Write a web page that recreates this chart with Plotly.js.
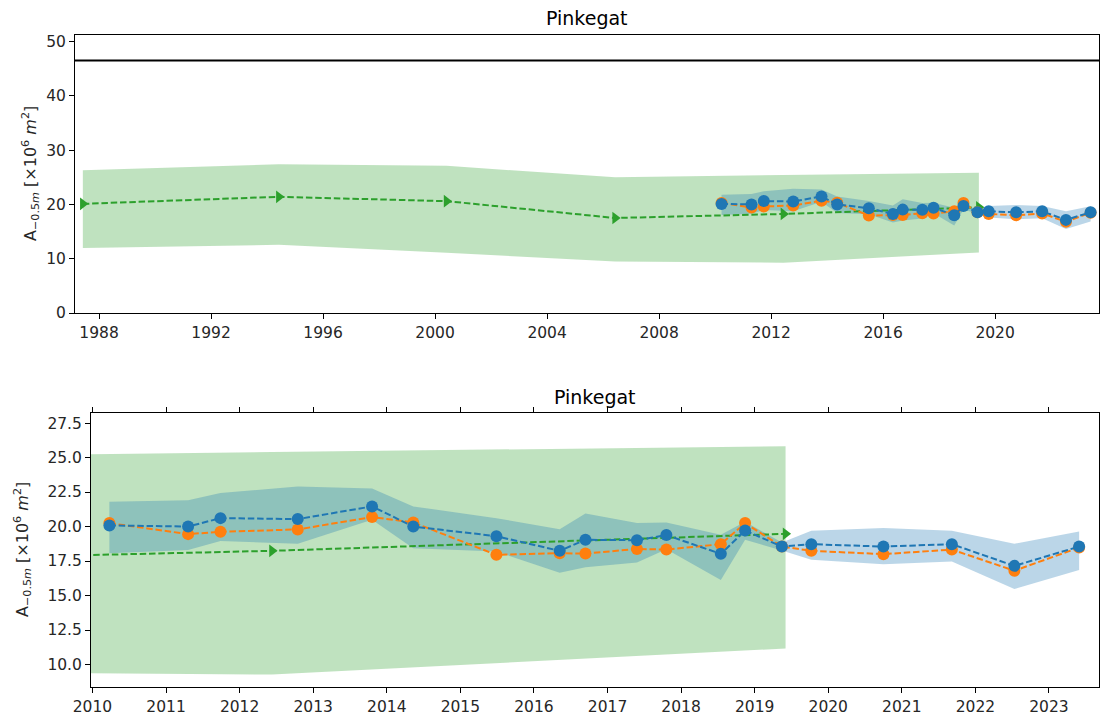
<!DOCTYPE html>
<html>
<head>
<meta charset="utf-8">
<script src="https://cdn.plot.ly/plotly-3.0.1.min.js"></script>
<style>html,body{margin:0;padding:0;background:#fff;}#chart{width:1107px;height:718px;}</style>
</head>
<body>
<div id="chart"></div>
<script>
// ---- data ----
const greenYears = [1987.42, 1994.42, 2000.41, 2006.43, 2012.44, 2019.42];
const greenVals  = [20.1, 21.4, 20.6, 17.5, 18.24, 19.47];
const greenUpper = [26.3, 27.4, 27.1, 25.0, 25.4, 25.82];
const greenLower = [11.95, 12.55, 11.1, 9.5, 9.27, 11.16];

const obsYears = [2010.23, 2011.30, 2011.74, 2012.79, 2013.80, 2014.36, 2015.49, 2016.35, 2016.70, 2017.40,
                  2017.80, 2018.54, 2018.87, 2019.37, 2019.77, 2020.75, 2021.68, 2022.53, 2023.41];
const blueVals   = [20.08, 20.0, 20.61, 20.54, 21.46, 20.0, 19.30, 18.24, 19.04, 19.01,
                    19.38, 18.02, 19.71, 18.55, 18.72, 18.55, 18.72, 17.15, 18.55];
const orangeVals = [20.25, 19.45, 19.62, 19.79, 20.69, 20.30, 17.95, 18.07, 18.04, 18.38,
                    18.33, 18.72, 20.25, 18.55, 18.24, 18.0, 18.33, 16.8, 18.48];
const blueUpper  = [21.8, 21.9, 22.43, 22.9, 22.75, 21.46, 20.61, 19.81, 20.95, 20.25,
                    20.3, 19.4, 20.35, 18.84, 19.7, 19.9, 19.69, 18.75, 19.64];
const blueLower  = [18.07, 18.3, 18.96, 18.75, 20.49, 18.43, 18.19, 16.66, 17.05, 17.39,
                    18.36, 16.13, 19.04, 18.26, 17.6, 17.27, 17.46, 15.47, 16.85];

const refLevel = 46.5;
const titleText = "Pinkegat";
const topXTicks = [1988, 1992, 1996, 2000, 2004, 2008, 2012, 2016, 2020];
const topYTicks = [0, 10, 20, 30, 40, 50];
const botXTicks = [2010, 2011, 2012, 2013, 2014, 2015, 2016, 2017, 2018, 2019, 2020, 2021, 2022, 2023];
const botYTicks = [10.0, 12.5, 15.0, 17.5, 20.0, 22.5, 25.0, 27.5];

// ---- styling ----
const C0 = '#1f77b4', C1 = '#ff7f0e', C2 = '#2ca02c';
const dash = '6.5px,2.8px';
const W = 1107, H = 718;

function band(xs, up, lo) {
  return { x: xs.concat(xs.slice().reverse()), y: up.concat(lo.slice().reverse()) };
}
const gBand = band(greenYears, greenUpper, greenLower);
const bBand = band(obsYears, blueUpper, blueLower);

function panelTraces(xa, ya) {
  return [
    {x: gBand.x, y: gBand.y, xaxis: xa, yaxis: ya, type: 'scatter', mode: 'lines', fill: 'toself',
     fillcolor: 'rgba(44,160,44,0.3)', line: {width: 0}, hoverinfo: 'skip', showlegend: false},
    {x: bBand.x, y: bBand.y, xaxis: xa, yaxis: ya, type: 'scatter', mode: 'lines', fill: 'toself',
     fillcolor: 'rgba(31,119,180,0.3)', line: {width: 0}, hoverinfo: 'skip', showlegend: false},
    {x: greenYears, y: greenVals, xaxis: xa, yaxis: ya, type: 'scatter', mode: 'lines+markers',
     line: {color: C2, width: 2, dash: dash}, marker: {symbol: 'triangle-right', size: 11, color: C2},
     showlegend: false},
    {x: obsYears, y: orangeVals, xaxis: xa, yaxis: ya, type: 'scatter', mode: 'lines+markers',
     line: {color: C1, width: 2, dash: dash}, marker: {symbol: 'circle', size: 12, color: C1},
     showlegend: false},
    {x: obsYears, y: blueVals, xaxis: xa, yaxis: ya, type: 'scatter', mode: 'lines+markers',
     line: {color: C0, width: 2, dash: dash}, marker: {symbol: 'circle', size: 12, color: C0},
     showlegend: false}
  ];
}

const data = panelTraces('x', 'y').concat(panelTraces('x2', 'y2'));

const tickFont = {family: 'DejaVu Sans', size: 15.5, color: '#262626'};
const axBase = {
  showgrid: false, zeroline: false, showline: true, linecolor: '#000', linewidth: 1,
  ticks: 'outside', ticklen: 5, tickwidth: 1, tickcolor: '#000', tickfont: tickFont
};

const yLabel = 'A<sub>−0.5<i>m</i></sub> [×10<sup>6</sup> <i>m</i><sup>2</sup>]';

const layout = {
  width: W, height: H,
  margin: {l: 0, r: 0, t: 0, b: 0},
  paper_bgcolor: '#fff', plot_bgcolor: '#fff',
  showlegend: false,
  xaxis: Object.assign({}, axBase, {domain: [75/W, 1099/W], range: [1987.14, 2023.71],
    tickmode: 'array', tickvals: topXTicks, mirror: true, anchor: 'y'}),
  yaxis: Object.assign({}, axBase, {domain: [1 - 313/H, 1 - 35/H], range: [0, 51.2],
    tickmode: 'array', tickvals: topYTicks, mirror: true, anchor: 'x'}),
  xaxis2: Object.assign({}, axBase, {domain: [91/W, 1099/W], range: [2009.98, 2023.68],
    tickmode: 'array', tickvals: botXTicks, mirror: 'ticks', anchor: 'y2'}),
  yaxis2: Object.assign({}, axBase, {domain: [1 - 687/H, 1 - 413/H], range: [8.37, 28.23],
    tickmode: 'array', tickvals: botYTicks, tickformat: '.1f', mirror: true, anchor: 'x2'}),
  shapes: [
    {type: 'line', xref: 'x domain', yref: 'y', x0: 0, x1: 1, y0: refLevel, y1: refLevel,
     line: {color: '#000', width: 2}}
  ],
  annotations: [
    {text: titleText, xref: 'paper', yref: 'paper', x: (75 + 1099) / 2 / W, y: 1 - 18/H,
     xanchor: 'center', yanchor: 'middle', showarrow: false,
     font: {family: 'DejaVu Sans', size: 19, color: '#000'}},
    {text: titleText, xref: 'paper', yref: 'paper', x: (91 + 1099) / 2 / W, y: 1 - 397/H,
     xanchor: 'center', yanchor: 'middle', showarrow: false,
     font: {family: 'DejaVu Sans', size: 19, color: '#000'}},
    {text: yLabel, xref: 'paper', yref: 'paper', x: 30/W, y: 1 - 174/H, textangle: -90,
     xanchor: 'center', yanchor: 'middle', showarrow: false,
     font: {family: 'DejaVu Sans', size: 16, color: '#262626'}},
    {text: yLabel, xref: 'paper', yref: 'paper', x: 22/W, y: 1 - 550/H, textangle: -90,
     xanchor: 'center', yanchor: 'middle', showarrow: false,
     font: {family: 'DejaVu Sans', size: 16, color: '#262626'}}
  ]
};

Plotly.newPlot('chart', data, layout, {staticPlot: true, displayModeBar: false});
</script>
</body>
</html>
